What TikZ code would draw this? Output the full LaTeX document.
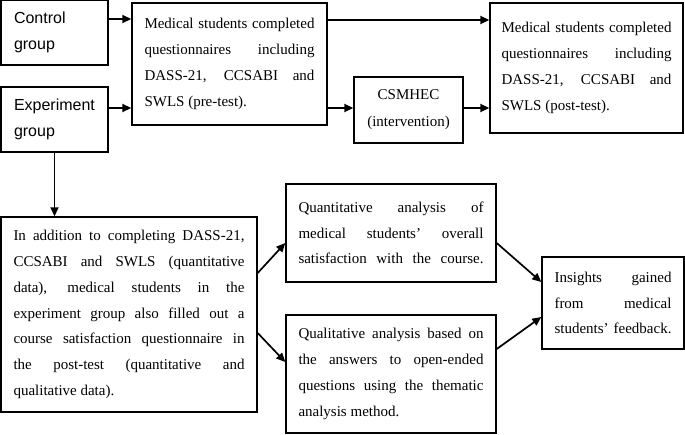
\documentclass[tikz,border=0pt]{standalone}
\usepackage{fontspec}
\setmainfont{Liberation Serif}
\newfontfamily\sansf{Liberation Sans}
\usetikzlibrary{arrows.meta}
\tolerance=10000
\hyphenpenalty=10000
\newcommand\fsp{\hspace{0pt plus 1fill}}
\begin{document}
\begin{tikzpicture}[x=1pt,y=-1pt,
  box/.style={draw, line width=1.4pt, inner sep=0pt, rectangle},
  jtext/.style={align=justify, font=\fontsize{15}{25.8}\selectfont},
  stext/.style={align=left, font=\sansf\fontsize{16}{26}\selectfont},
  arr/.style={line width=1.7pt, -{Triangle[length=9pt,width=8pt]}}]
\useasboundingbox (0,0) rectangle (685,434);

\node[box, stext, minimum width=107pt, minimum height=65pt, text width=81pt] (ctrl) at (54.5,32.5) {Control\\group};
\node[box, stext, minimum width=107pt, minimum height=65pt, text width=81pt] (exp) at (54.5,119.5) {Experiment\\group};

\node[box, jtext, minimum width=195pt, minimum height=122pt, text width=170pt] (pre) at (229.5,64)
 {Medical students completed\linebreak questionnaires including\linebreak DASS-21, CCSABI and\linebreak SWLS (pre-test).};

\node[box, jtext, minimum width=193pt, minimum height=130pt, text width=170pt] (post) at (586.5,68)
 {Medical students completed\linebreak questionnaires including\linebreak DASS-21, CCSABI and\linebreak SWLS (post-test).};

\node[box, align=center, font=\fontsize{15}{27}\selectfont, minimum width=109pt, minimum height=66pt] (csm) at (408.5,110)
 {CSMHEC\\(intervention)};

\node[box, jtext, minimum width=256pt, minimum height=195pt, text width=231pt] (big) at (129,314.5)
 {In addition to completing DASS-21,\linebreak CCSABI and SWLS (quantitative\linebreak data), medical students in the\linebreak experiment group also filled out a\linebreak course satisfaction questionnaire in\linebreak the post-test (quantitative and\linebreak qualitative data).};

\node[box, jtext, minimum width=210pt, minimum height=98pt, text width=185pt] (quant) at (391,233)
 {Quantitative analysis of\linebreak medical students’ overall\linebreak satisfaction\fsp{} with\fsp{} the\fsp{} course.};

\node[box, jtext, minimum width=210pt, minimum height=118pt, text width=185pt] (qual) at (391,374)
 {Qualitative analysis based on\linebreak the answers to open-ended\linebreak questions using the thematic\linebreak analysis method.};

\node[box, jtext, minimum width=142pt, minimum height=92pt, text width=117pt] (ins) at (613,303)
 {Insights gained\linebreak from medical\linebreak students’\fsp{} feedback.};

\draw[arr] (ctrl.east |- 0,19) -- (pre.west |- 0,19);
\draw[arr] (exp.east |- 0,108) -- (pre.west |- 0,108);
\draw[arr] (pre.east |- 0,20) -- (post.west |- 0,20);
\draw[arr] (pre.east |- 0,108) -- (csm.west |- 0,108);
\draw[arr] (csm.east |- 0,108) -- (post.west |- 0,108);
\draw[arr] (exp.south) -- (exp.south |- big.north);
\draw[arr] (big.east |- 0,273) -- (quant.west |- 0,243);
\draw[arr] (big.east |- 0,333) -- (qual.west |- 0,362);
\draw[arr] (quant.east |- 0,243) -- (ins.west |- 0,282);
\draw[arr] (qual.east |- 0,349) -- (ins.west |- 0,317);
\end{tikzpicture}
\end{document}
